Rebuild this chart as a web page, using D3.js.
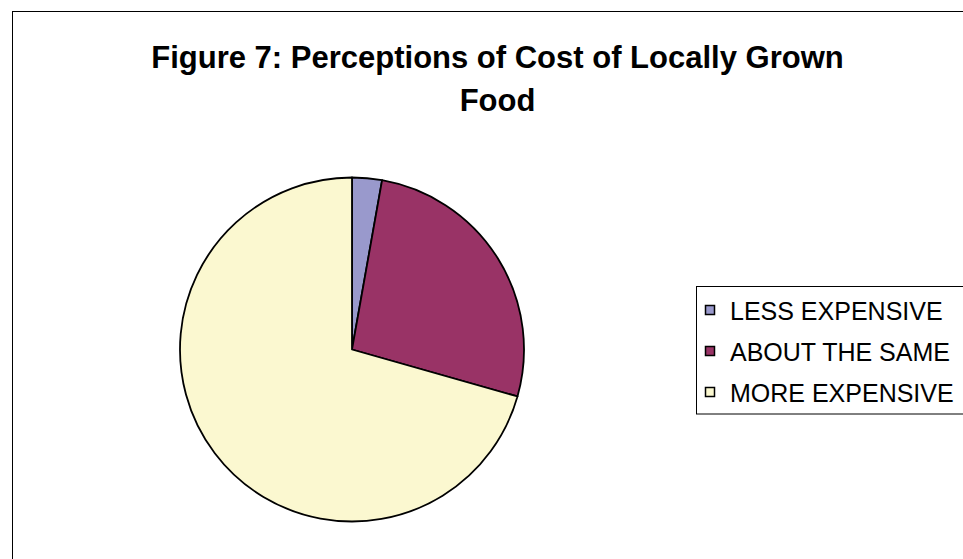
<!DOCTYPE html>
<html>
<head>
<meta charset="utf-8">
<script src="https://cdn.jsdelivr.net/npm/d3@7/dist/d3.min.js"></script>
<style>
  html, body { margin: 0; padding: 0; background: #fff; }
  svg { display: block; }
</style>
</head>
<body>
<svg id="chart" width="963" height="559"></svg>
<script>
// Survey responses (percent of respondents)
const categories = ["LESS EXPENSIVE", "ABOUT THE SAME", "MORE EXPENSIVE"];
const values = [2.8, 26.6, 70.6];
const colors = ["#9999CC", "#993366", "#FBF8D0"];
const titleLines = ["Figure 7: Perceptions of Cost of Locally Grown", "Food"];

const svg = d3.select("#chart");
const font = "'Liberation Sans', Arial, Helvetica, sans-serif";

// Chart frame (runs past the right and bottom edges)
svg.append("rect")
  .attr("x", 12.5).attr("y", 11.5)
  .attr("width", 1000).attr("height", 600)
  .attr("fill", "#fff").attr("stroke", "#000").attr("stroke-width", 1);

// Title
svg.append("g").selectAll("text")
  .data(titleLines)
  .join("text")
  .attr("x", 497.5)
  .attr("y", (d, i) => 68 + i * 43)
  .attr("text-anchor", "middle")
  .attr("font-family", font)
  .attr("font-weight", "bold")
  .attr("font-size", 31)
  .attr("fill", "#000")
  .text(d => d);

// Pie
const cx = 352, cy = 349.5, r = 172;
const pie = d3.pie().sort(null).value(d => d)(values);
const arc = d3.arc().innerRadius(0).outerRadius(r);

svg.append("g")
  .attr("transform", `translate(${cx},${cy})`)
  .selectAll("path")
  .data(pie)
  .join("path")
  .attr("d", arc)
  .attr("fill", (d, i) => colors[i])
  .attr("stroke", "#000")
  .attr("stroke-width", 1.8)
  .attr("stroke-linejoin", "round");

// Legend
const legend = svg.append("g");
legend.append("rect")
  .attr("x", 696.5).attr("y", 286.5)
  .attr("width", 400).attr("height", 127.5)
  .attr("fill", "#fff").attr("stroke", "#000").attr("stroke-width", 1);

const y = d3.scalePoint().domain(categories).range([311, 393]);

const items = legend.selectAll("g.item")
  .data(categories)
  .join("g")
  .attr("class", "item")
  .attr("transform", d => `translate(0,${y(d)})`);

items.append("rect")
  .attr("x", 705.5).attr("y", -5.5)
  .attr("width", 9).attr("height", 9)
  .attr("fill", (d, i) => colors[i])
  .attr("stroke", "#000").attr("stroke-width", 1.5);

items.append("text")
  .attr("x", 730)
  .attr("y", 0)
  .attr("dy", "0.36em")
  .attr("font-family", font)
  .attr("font-size", 25)
  .attr("fill", "#000")
  .text(d => d);
</script>
</body>
</html>
